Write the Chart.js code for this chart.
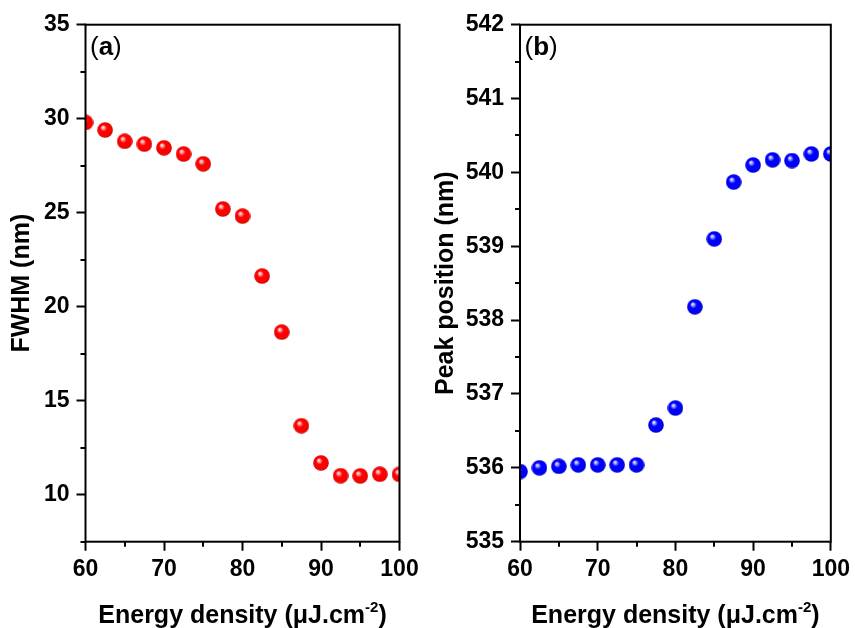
<!DOCTYPE html>
<html>
<head>
<meta charset="utf-8">
<script src="https://cdn.jsdelivr.net/npm/chart.js@4/dist/chart.umd.min.js"></script>
<style>
  html, body { margin: 0; padding: 0; background: #fff; }
  #wrap { position: relative; width: 855px; height: 628px; }
  .panel { position: absolute; top: 0; height: 628px; }
  #panelA { left: 0; width: 427px; }
  #panelB { left: 427px; width: 428px; }
</style>
</head>
<body>
<div id="wrap">
  <div class="panel" id="panelA"><canvas id="fwhmChart" width="427" height="628"></canvas></div>
  <div class="panel" id="panelB"><canvas id="peakChart" width="428" height="628"></canvas></div>
</div>
<script>
// energy density steps (µJ/cm²) and the two measured series
const energyDensity = [60, 62.5, 65, 67.5, 70, 72.5, 75, 77.5, 80, 82.5, 85, 87.5, 90, 92.5, 95, 97.5, 100];
const fwhm = [29.8, 29.4, 28.8, 28.65, 28.45, 28.12, 27.6, 25.2, 24.82, 21.63, 18.65, 13.67, 11.69, 11.01, 11.0, 11.09, 11.08];
const peakPosition = [535.95, 536.0, 536.02, 536.04, 536.04, 536.04, 536.04, 536.58, 536.81, 538.18, 539.1, 539.87, 540.1, 540.17, 540.16, 540.25, 540.25];

// major tick labels
const energyTicks = [60, 70, 80, 90, 100];
const fwhmTicks = [10, 15, 20, 25, 30, 35];
const peakTicks = [535, 536, 537, 538, 539, 540, 541, 542];

const FONT = '"Liberation Sans", Arial, Helvetica, sans-serif';

// shaded ball marker
function sphere(base, mid, edge) {
  const c = document.createElement('canvas');
  c.width = 16; c.height = 16;
  const g = c.getContext('2d');
  const grad = g.createRadialGradient(5.5, 5, 0, 8, 8, 8);
  grad.addColorStop(0, '#ffffff');
  grad.addColorStop(0.16, mid);
  grad.addColorStop(0.42, base);
  grad.addColorStop(0.85, base);
  grad.addColorStop(1, edge);
  g.fillStyle = grad;
  g.beginPath();
  g.arc(8, 8, 7.8, 0, Math.PI * 2);
  g.fill();
  return c;
}

// box frame, minor ticks, panel letter and the x caption with superscript
const panelDecor = {
  id: 'panelDecor',
  afterDatasetsDraw(chart, args, opts) {
    const { ctx, chartArea: a, scales } = chart;
    ctx.save();
    ctx.strokeStyle = '#000';
    ctx.lineWidth = 2;
    ctx.strokeRect(a.left, a.top, a.right - a.left, a.bottom - a.top);

    // minor ticks halfway between the majors
    const x = scales.x, y = scales.y;
    const xStep = energyTicks[1] - energyTicks[0];
    const yStep = opts.yTicks[1] - opts.yTicks[0];
    ctx.beginPath();
    for (let v = energyTicks[0] + xStep / 2; v < x.max; v += xStep) {
      const px = Math.round(x.getPixelForValue(v));
      ctx.moveTo(px, a.bottom);
      ctx.lineTo(px, a.bottom + 5);
    }
    for (let v = opts.yTicks[0] - yStep / 2; v <= y.max; v += yStep) {
      if (v < y.min) continue;
      const py = Math.round(y.getPixelForValue(v));
      ctx.moveTo(a.left, py);
      ctx.lineTo(a.left - 5, py);
    }
    ctx.stroke();

    // panel letter: regular brackets, bold letter
    ctx.fillStyle = '#000';
    ctx.textBaseline = 'alphabetic';
    let tx = a.left + 4.5;
    const ty = a.top + 30;
    ctx.font = '26px ' + FONT;
    ctx.fillText('(', tx, ty); tx += ctx.measureText('(').width;
    ctx.font = 'bold 26px ' + FONT;
    ctx.fillText(opts.letter, tx, ty); tx += ctx.measureText(opts.letter).width;
    ctx.font = '26px ' + FONT;
    ctx.fillText(')', tx, ty);

    // x caption
    const main = 'Energy density (\u03bcJ.cm', sup = '-2', tail = ')';
    ctx.font = 'bold 25px ' + FONT;
    const w1 = ctx.measureText(main).width, w3 = ctx.measureText(tail).width;
    ctx.font = 'bold 15px ' + FONT;
    const w2 = ctx.measureText(sup).width;
    let cx = (a.left + a.right) / 2 - (w1 + w2 + w3) / 2;
    const base = 623;
    ctx.font = 'bold 25px ' + FONT;
    ctx.fillText(main, cx, base); cx += w1;
    ctx.font = 'bold 15px ' + FONT;
    ctx.fillText(sup, cx, base - 11); cx += w2;
    ctx.font = 'bold 25px ' + FONT;
    ctx.fillText(tail, cx, base);
    ctx.restore();
  }
};

function makePanel(canvasId, values, marker, yMin, yMax, yTicks, yTitle, yAxisWidth, titlePad, padRight, letter) {
  return new Chart(document.getElementById(canvasId), {
    type: 'scatter',
    data: {
      datasets: [{
        data: energyDensity.map((e, i) => ({ x: e, y: values[i] })),
        pointStyle: marker,
        pointRadius: 8,
        pointHoverRadius: 8,
        showLine: false,
        clip: 0
      }]
    },
    options: {
      responsive: false,
      animation: false,
      events: [],
      layout: { padding: { top: 24.7, right: padRight, bottom: 0, left: 0 } },
      plugins: {
        legend: { display: false },
        tooltip: { enabled: false },
        panelDecor: { letter: letter, yTicks: yTicks }
      },
      scales: {
        x: {
          type: 'linear',
          min: 60,
          max: 100,
          afterBuildTicks: s => { s.ticks = energyTicks.map(v => ({ value: v })); },
          afterFit: s => { s.height = 628 - 541.7; },
          border: { display: false },
          grid: { drawOnChartArea: false, drawTicks: true, tickLength: 9, tickWidth: 2, tickColor: '#000' },
          ticks: { color: '#000', padding: 5, maxRotation: 0, font: { family: FONT, size: 23, weight: 'bold' } }
        },
        y: {
          type: 'linear',
          min: yMin,
          max: yMax,
          afterBuildTicks: s => { s.ticks = yTicks.map(v => ({ value: v })); },
          afterFit: s => { s.width = yAxisWidth; },
          border: { display: false },
          grid: { drawOnChartArea: false, drawTicks: true, tickLength: 9, tickWidth: 2, tickColor: '#000' },
          ticks: { color: '#000', padding: 7, font: { family: FONT, size: 23, weight: 'bold' } },
          title: {
            display: true,
            text: yTitle,
            color: '#000',
            padding: { top: titlePad, bottom: 0 },
            font: { family: FONT, size: 25, weight: 'bold' }
          }
        }
      }
    },
    plugins: [panelDecor]
  });
}

makePanel('fwhmChart', fwhm, sphere('#ff0000', '#ffb0b0', '#b00000'),
  7.5, 35, fwhmTicks, 'FWHM (nm)', 85.5, 7, 27.5, 'a');
makePanel('peakChart', peakPosition, sphere('#0000ff', '#b0b0ff', '#0000a8'),
  535, 542, peakTicks, 'Peak position (nm)', 93, 4, 21, 'b');
</script>
</body>
</html>
